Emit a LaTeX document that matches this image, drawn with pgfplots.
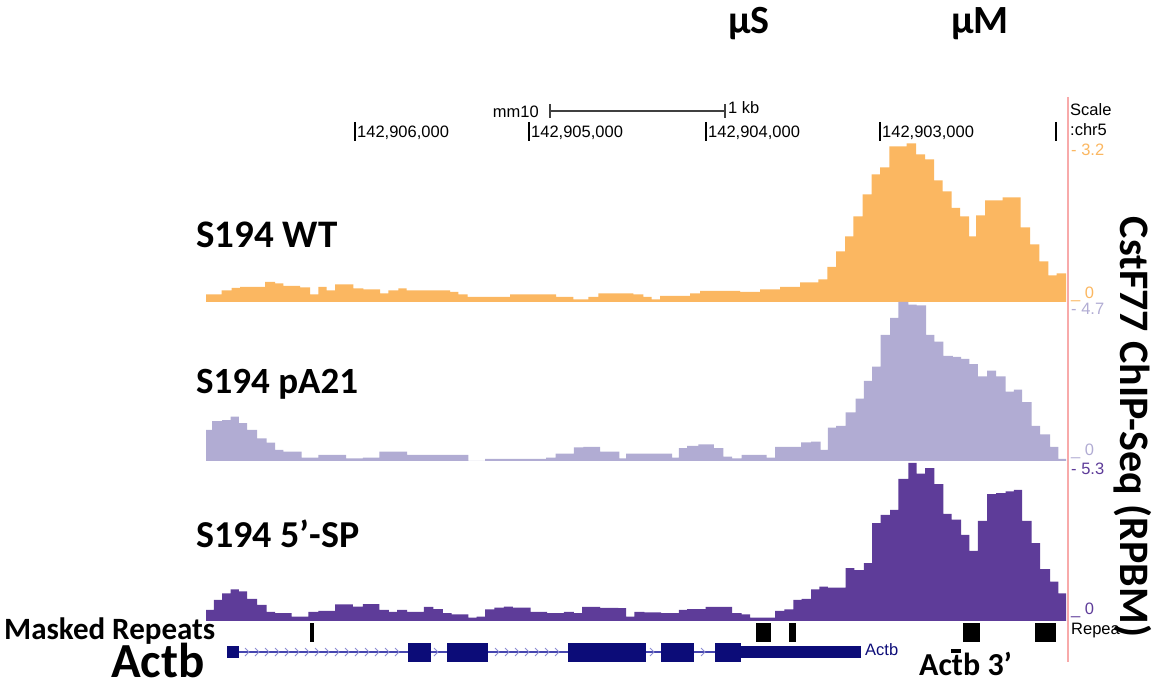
\documentclass[border=0pt]{standalone}
\usepackage{fontspec}
\setmainfont{Liberation Sans}
\newfontfamily\calibri{Carlito}
\usepackage{pgfplots}
\pgfplotsset{compat=1.18}
\definecolor{wt}{RGB}{251,183,97}
\definecolor{pa}{RGB}{177,172,211}
\definecolor{sp}{RGB}{94,60,153}
\definecolor{navy}{RGB}{12,12,120}
\definecolor{intron}{RGB}{70,70,175}
\definecolor{chev}{RGB}{140,140,210}
\definecolor{pinkline}{RGB}{248,170,170}
\begin{document}
\begin{tikzpicture}
\useasboundingbox (0pt,0pt) rectangle (1155pt,687pt);
% ---------- overlay in pixel coordinates ----------
\begin{axis}[at={(0pt,0pt)}, anchor=south west, scale only axis,
  width=1155pt, height=687pt, xmin=0, xmax=1155, ymin=0, ymax=687,
  y dir=reverse, hide axis, clip=false]
% top labels
\node[font=\calibri\bfseries\fontsize{40}{40}\selectfont] at (axis cs:749,24) {μS};
\node[font=\calibri\bfseries\fontsize{40}{40}\selectfont] at (axis cs:980,24) {μM};
% scale ruler
\node[anchor=east, inner sep=0pt, font=\fontsize{16.5}{16.5}\selectfont] at (axis cs:539,112) {mm10};
\draw[line width=1.3pt, black!75] (axis cs:550,111) -- (axis cs:725,111);
\draw[line width=1.3pt, black!75] (axis cs:550,104) -- (axis cs:550,118);
\draw[line width=1.3pt, black!75] (axis cs:725,104) -- (axis cs:725,118);
\node[anchor=west, inner sep=0pt, font=\fontsize{16.5}{16.5}\selectfont] at (axis cs:728,108) {1 kb};
% position ticks
\pgfplotsinvokeforeach{355,529,706,880,1056}{
  \draw[line width=2.5pt] (axis cs:#1,122) -- (axis cs:#1,141);
}
\node[anchor=west, inner sep=0pt, font=\fontsize{16.5}{16.5}\selectfont] at (axis cs:357,133) {142,906,000};
\node[anchor=west, inner sep=0pt, font=\fontsize{16.5}{16.5}\selectfont] at (axis cs:531,133) {142,905,000};
\node[anchor=west, inner sep=0pt, font=\fontsize{16.5}{16.5}\selectfont] at (axis cs:708,133) {142,904,000};
\node[anchor=west, inner sep=0pt, font=\fontsize{16.5}{16.5}\selectfont] at (axis cs:882,133) {142,903,000};
\node[anchor=west, inner sep=0pt, font=\fontsize{16.5}{16.5}\selectfont] at (axis cs:1070,110) {Scale};
\node[anchor=west, inner sep=0pt, font=\fontsize{16.5}{16.5}\selectfont] at (axis cs:1070,130) {:chr5};
% pink separator
\draw[line width=2pt, pinkline] (axis cs:1068,97) -- (axis cs:1068,662);
% data range labels
\node[anchor=west, inner sep=0pt, text=wt, font=\fontsize{16.5}{16.5}\selectfont] at (axis cs:1071,150) {- 3.2};
\node[anchor=base west, inner sep=0pt, text=wt, font=\fontsize{16.5}{16.5}\selectfont] at (axis cs:1071,298) {\_ 0};
\node[anchor=west, inner sep=0pt, text=pa, font=\fontsize{16.5}{16.5}\selectfont] at (axis cs:1071,309) {- 4.7};
\node[anchor=base west, inner sep=0pt, text=pa, font=\fontsize{16.5}{16.5}\selectfont] at (axis cs:1071,455) {\_ 0};
\node[anchor=west, inner sep=0pt, text=sp, font=\fontsize{16.5}{16.5}\selectfont] at (axis cs:1071,469) {- 5.3};
\node[anchor=base west, inner sep=0pt, text=sp, font=\fontsize{16.5}{16.5}\selectfont] at (axis cs:1071,614) {\_ 0};
\node[anchor=west, inner sep=0pt, font=\fontsize{16.5}{16.5}\selectfont] at (axis cs:1071,631) {Repea};
% track labels
\node[anchor=base west, inner sep=0pt, font=\calibri\bfseries\fontsize{39}{39}\selectfont] at (axis cs:196,247) {S194 WT};
\node[anchor=base west, inner sep=0pt, font=\calibri\bfseries\fontsize{37}{37}\selectfont] at (axis cs:196,393) {S194 pA21};
\node[anchor=base west, inner sep=0pt, font=\calibri\bfseries\fontsize{38}{38}\selectfont] at (axis cs:196,547) {S194 5’-SP};
\node[anchor=base west, inner sep=0pt, font=\calibri\bfseries\fontsize{31}{31}\selectfont] at (axis cs:4,639) {Masked Repeats};
\node[anchor=base west, inner sep=0pt, font=\calibri\bfseries\fontsize{49}{49}\selectfont] at (axis cs:111,677) {Actb};
\node[anchor=base west, inner sep=0pt, font=\calibri\bfseries\fontsize{32}{32}\selectfont] at (axis cs:919,675) {Actb 3’};
\fill (axis cs:951,649) rectangle (axis cs:961,653);
% y-axis title
\node[rotate=-90, font=\calibri\bfseries\fontsize{42}{42}\selectfont] at (axis cs:1133,427) {CstF77 ChIP-Seq (RPBM)};
% masked repeats
\fill (axis cs:310,623) rectangle (axis cs:314,642);
\fill (axis cs:756,623) rectangle (axis cs:771,642);
\fill (axis cs:789,623) rectangle (axis cs:796,642);
\fill (axis cs:963,623) rectangle (axis cs:980,642);
\fill (axis cs:1035,623) rectangle (axis cs:1056,642);
% gene model
\draw[line width=1.3pt, intron] (axis cs:227,652) -- (axis cs:860,652);
\pgfplotsinvokeforeach{247,257,267,277,287,297,307,317,327,337,347,357,367,377,387,397,436,497,507,517,527,537,547,557,652,703}{
  \draw[line width=1pt, chev] (axis cs:#1-2,648) -- (axis cs:#1+2,652) -- (axis cs:#1-2,656);
}
\fill[navy] (axis cs:227,646) rectangle (axis cs:239,658);
\fill[navy] (axis cs:408,643) rectangle (axis cs:431,662);
\fill[navy] (axis cs:447,643) rectangle (axis cs:488,662);
\fill[navy] (axis cs:568,643) rectangle (axis cs:646,662);
\fill[navy] (axis cs:661,643) rectangle (axis cs:694,662);
\fill[navy] (axis cs:715,643) rectangle (axis cs:741,662);
\fill[navy] (axis cs:741,646) rectangle (axis cs:861,658);
\node[anchor=west, inner sep=0pt, text=navy, font=\fontsize{16.5}{16.5}\selectfont] at (axis cs:865,650) {Actb};
\end{axis}
% ---------- track 1: S194 WT ----------
\begin{axis}[at={(206pt,385pt)}, anchor=south west, scale only axis,
  width=860pt, height=160pt, xmin=206, xmax=1066, ymin=0, ymax=3.2, hide axis]
\addplot[const plot, fill=wt, draw=none] coordinates {
(206,0.15) (221.7,0.23) (231.7,0.28) (240,0.30) (265,0.40) (275,0.37) (283.3,0.32) (300,0.29) (310,0.15) (318.3,0.30) (326.7,0.23) (335,0.35) (353.3,0.27) (363.3,0.25) (380,0.17) (388.3,0.23) (398.3,0.27) (406.7,0.23) (450,0.20) (458.3,0.15) (467.7,0.10) (510,0.15) (556,0.10) (573.3,0.05) (588.3,0.10) (598.3,0.17) (633.3,0.15) (643.3,0.10) (651.7,0.05) (660,0.12) (690,0.17) (700,0.22) (740,0.20) (760,0.25) (780,0.30) (800,0.39) (818.3,0.45) (827.3,0.70) (836,1.01) (845,1.31) (853.3,1.71) (862.7,2.15) (871.7,2.55) (880,2.69) (889.3,3.11) (906.7,3.17) (916,2.95) (925,2.85) (934,2.43) (942.7,2.21) (951.7,1.88) (960,1.71) (969,1.31) (976,1.73) (985,2.03) (1002.7,2.09) (1020.7,1.49) (1030,1.15) (1039.3,0.81) (1048.3,0.53) (1056.7,0.57) (1066,0.57)
} \closedcycle;
\end{axis}
% ---------- track 2: S194 pA21 ----------
\begin{axis}[at={(206pt,226pt)}, anchor=south west, scale only axis,
  width=860pt, height=159pt, xmin=206, xmax=1066, ymin=0, ymax=4.7, hide axis]
\addplot[const plot, fill=pa, draw=none] coordinates {
(206,0.92) (212.2,1.18) (222.2,1.21) (230.6,1.31) (238.9,1.12) (247.2,0.92) (257.2,0.67) (266.7,0.54) (275,0.33) (283.3,0.28) (301.7,0.10) (318.3,0.18) (346.1,0.08) (362.8,0.10) (379.4,0.28) (407.2,0.18) (468.3,0) (485,0.06) (546.1,0.10) (555.6,0.22) (573.9,0.40) (583.3,0.42) (600,0.28) (619.4,0.08) (626.1,0.22) (672.2,0.10) (678.9,0.38) (687.2,0.45) (698.3,0.49) (713.9,0.38) (723.3,0.13) (732.2,0.08) (741.7,0.18) (766.7,0.10) (775,0.42) (801.1,0.55) (811.1,0.57) (820.6,0.33) (827.8,0.99) (836.1,1.04) (845.6,1.44) (855.6,1.84) (863.9,2.37) (872.2,2.79) (880.6,3.73) (890,4.23) (898.3,4.70) (908.3,4.62) (916.7,4.60) (926.1,3.73) (934.4,3.53) (943.3,3.11) (952.8,3.08) (961.1,3.02) (969.4,2.86) (977.8,2.50) (987.2,2.67) (996.1,2.50) (1005.6,2.05) (1013.9,2.11) (1022.2,1.74) (1031.7,1.04) (1040,0.79) (1050,0.42) (1058.3,0.06) (1066,0.06)
} \closedcycle;
\end{axis}
% ---------- track 3: S194 5'-SP ----------
\begin{axis}[at={(206pt,66pt)}, anchor=south west, scale only axis,
  width=860pt, height=158pt, xmin=206, xmax=1066, ymin=0, ymax=5.3, hide axis]
\addplot[const plot, fill=sp, draw=none] coordinates {
(206,0.37) (213.9,0.71) (222.2,0.93) (230.6,1.06) (238.9,0.99) (247.2,0.74) (257.2,0.54) (266.7,0.31) (275,0.26) (291.7,0.15) (308.3,0.31) (318.3,0.34) (335,0.56) (352.8,0.48) (362.8,0.57) (379.4,0.37) (388.9,0.31) (397.2,0.37) (407.2,0.31) (423.9,0.47) (433.3,0.40) (442.8,0.26) (451.7,0.22) (468.3,0.11) (476.7,0.15) (485,0.39) (494.4,0.45) (503.9,0.48) (512.8,0.45) (530.6,0.31) (547.2,0.26) (563.9,0.31) (573.9,0.26) (582.2,0.47) (600,0.44) (618.3,0.43) (626.1,0.15) (634.4,0.31) (644.4,0.29) (661.1,0.26) (678.9,0.37) (687.2,0.40) (705.6,0.47) (732.2,0.26) (741.7,0.22) (750,0.11) (775,0.34) (784.4,0.39) (793.3,0.71) (801.7,0.74) (811.1,1.06) (819.4,1.15) (827.8,1.12) (845.6,1.77) (854.4,1.71) (863.9,1.94) (872.2,3.28) (880.6,3.56) (890,3.73) (898.3,4.77) (908.3,5.30) (916.7,4.94) (925,5.13) (934.4,4.59) (943.3,3.59) (951.7,3.40) (961.1,2.89) (969.4,2.35) (977.8,3.36) (987.2,4.26) (996.1,4.29) (1005.6,4.35) (1013.9,4.40) (1022.2,3.36) (1031.7,2.61) (1040,1.74) (1050,1.32) (1058.3,0.93) (1066,0.93)
} \closedcycle;
\end{axis}
\end{tikzpicture}
\end{document}
